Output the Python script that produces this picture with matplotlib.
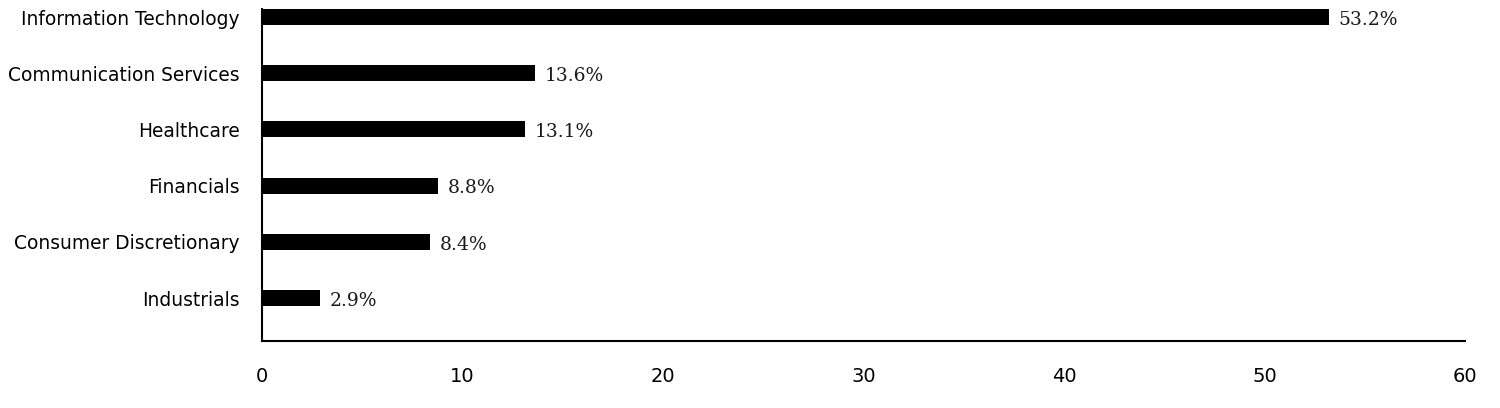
import matplotlib
matplotlib.use("Agg")
import matplotlib.pyplot as plt

categories = ["Information Technology", "Communication Services", "Healthcare",
              "Financials", "Consumer Discretionary", "Industrials"]
values = [53.2, 13.6, 13.1, 8.8, 8.4, 2.9]
xticks = [0, 10, 20, 30, 40, 50, 60]

fig = plt.figure(figsize=(15, 4.08), dpi=100)
ax = fig.add_axes([262/1500, (408-341)/408, (1465-262)/1500, (341-9)/408])

n = len(categories)
ypos = list(range(n - 1, -1, -1))
ax.barh(ypos, values, height=0.285, color="black")
for y, v in zip(ypos, values):
    ax.annotate(f"{v:.1f}%", xy=(v, y), xytext=(7, -2), textcoords="offset points",
                va="center", ha="left", family="DejaVu Serif", fontsize=13.5,
                color="#1a1a1a")

ax.set_xlim(0, 60)
ax.set_ylim(-0.765, n - 1 + 0.143)
ax.set_yticks(ypos)
ax.set_yticklabels(categories, fontsize=13.4, family="DejaVu Sans")
ax.set_xticks(xticks)
ax.set_xticklabels([str(t) for t in xticks], fontsize=14, family="DejaVu Sans")
ax.tick_params(axis="y", length=0, pad=16)
ax.tick_params(axis="x", length=0, pad=18.5)
for s in ["top", "right"]:
    ax.spines[s].set_visible(False)
ax.spines["left"].set_linewidth(1.5)
ax.spines["bottom"].set_linewidth(1.5)

fig.savefig("out.png", dpi=100, facecolor="white")
